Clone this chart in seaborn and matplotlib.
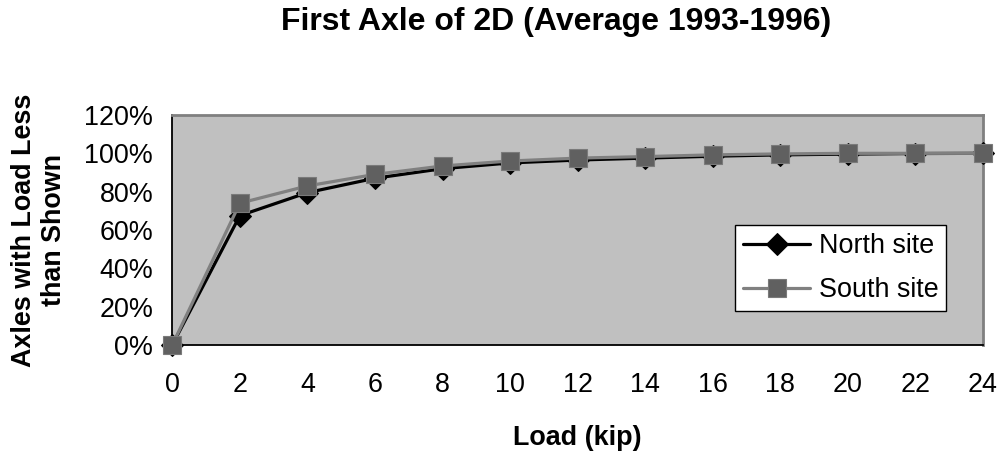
import matplotlib
matplotlib.use("Agg")
import matplotlib.pyplot as plt
import seaborn as sns
import pandas as pd
from matplotlib.ticker import FuncFormatter, MultipleLocator

# ---- data ----
loads = [0, 2, 4, 6, 8, 10, 12, 14, 16, 18, 20, 22, 24]
north_pct = [0, 67.5, 79.5, 87, 92, 95, 96.5, 97.5, 98.5, 99.2, 99.6, 99.9, 100]
south_pct = [0, 74, 83, 89, 93.4, 96, 97.5, 98.3, 99.2, 99.7, 100, 100, 100]
series_names = ["North site", "South site"]
title_text = "First Axle of 2D (Average 1993-1996)"
x_label = "Load (kip)"
y_label = "Axles with Load Less\nthan Shown"

sns.set_theme(style="white")
plt.rcParams['font.family'] = ['Liberation Sans', 'DejaVu Sans']

W, H = 1002, 453
fig = plt.figure(figsize=(W / 100, H / 100), dpi=100)
ax = fig.add_axes([172.3 / W, 1 - 345 / H, (983 - 172.3) / W, (345 - 115) / H])
ax.set_facecolor("#C0C0C0")

df = pd.DataFrame({
    "load": loads * 2,
    "pct": north_pct + south_pct,
    "site": [series_names[0]] * len(loads) + [series_names[1]] * len(loads),
})

sns.lineplot(data=df[df.site == series_names[0]], x="load", y="pct", ax=ax,
             color="black", marker="D", markersize=11.5, markeredgecolor="black",
             markerfacecolor="black", linewidth=2.3, label=series_names[0],
             clip_on=False, zorder=3)
sns.lineplot(data=df[df.site == series_names[1]], x="load", y="pct", ax=ax,
             color="#808080", marker="s", markersize=13.5, markeredgecolor="#7a7a7a",
             markerfacecolor="#606060", markeredgewidth=0.8, linewidth=2.3,
             label=series_names[1], clip_on=False, zorder=4)

ax.set_xlim(0, 24)
ax.set_ylim(0, 120)
ax.xaxis.set_major_locator(MultipleLocator(2))
ax.yaxis.set_major_locator(MultipleLocator(20))
ax.yaxis.set_major_formatter(FuncFormatter(lambda v, p: f"{v:.0f}%"))
ax.tick_params(axis="both", which="major", direction="inout", length=11.5,
               width=0.9, colors="black", labelsize=19.4, labelcolor="black")
ax.tick_params(axis="x", pad=14)
ax.tick_params(axis="y", pad=8)
ax.set_xlabel("")
ax.set_ylabel("")

for side in ["top", "right"]:
    ax.spines[side].set_color("#808080")
    ax.spines[side].set_linewidth(2.0)
for side in ["left", "bottom"]:
    ax.spines[side].set_color("black")
    ax.spines[side].set_linewidth(1.3)
    ax.spines[side].set_zorder(2.5)

leg = ax.legend(loc="upper left", bbox_to_anchor=(735 / W, 1 - 225 / H),
                bbox_transform=fig.transFigure, fontsize=19.4, frameon=True,
                fancybox=False, edgecolor="black", facecolor="white", framealpha=1,
                handlelength=2.5, handletextpad=0.3, labelspacing=0.68,
                borderpad=0.3, borderaxespad=0)
leg.get_frame().set_linewidth(1.0)
for txt in leg.get_texts():
    txt.set_color("black")

fig.text(556 / W, 1 - 22 / H, title_text, ha="center", va="center",
         fontsize=23, fontweight="bold", color="black")
fig.text(577 / W, 1 - 438 / H, x_label, ha="center", va="center",
         fontsize=19.4, fontweight="bold", color="black")
fig.text(39 / W, 1 - 230 / H, y_label, ha="center", va="center", rotation=90,
         fontsize=19.4, fontweight="bold", color="black", multialignment="center",
         linespacing=1.2)

fig.savefig("out.png", dpi=100, facecolor="white")
